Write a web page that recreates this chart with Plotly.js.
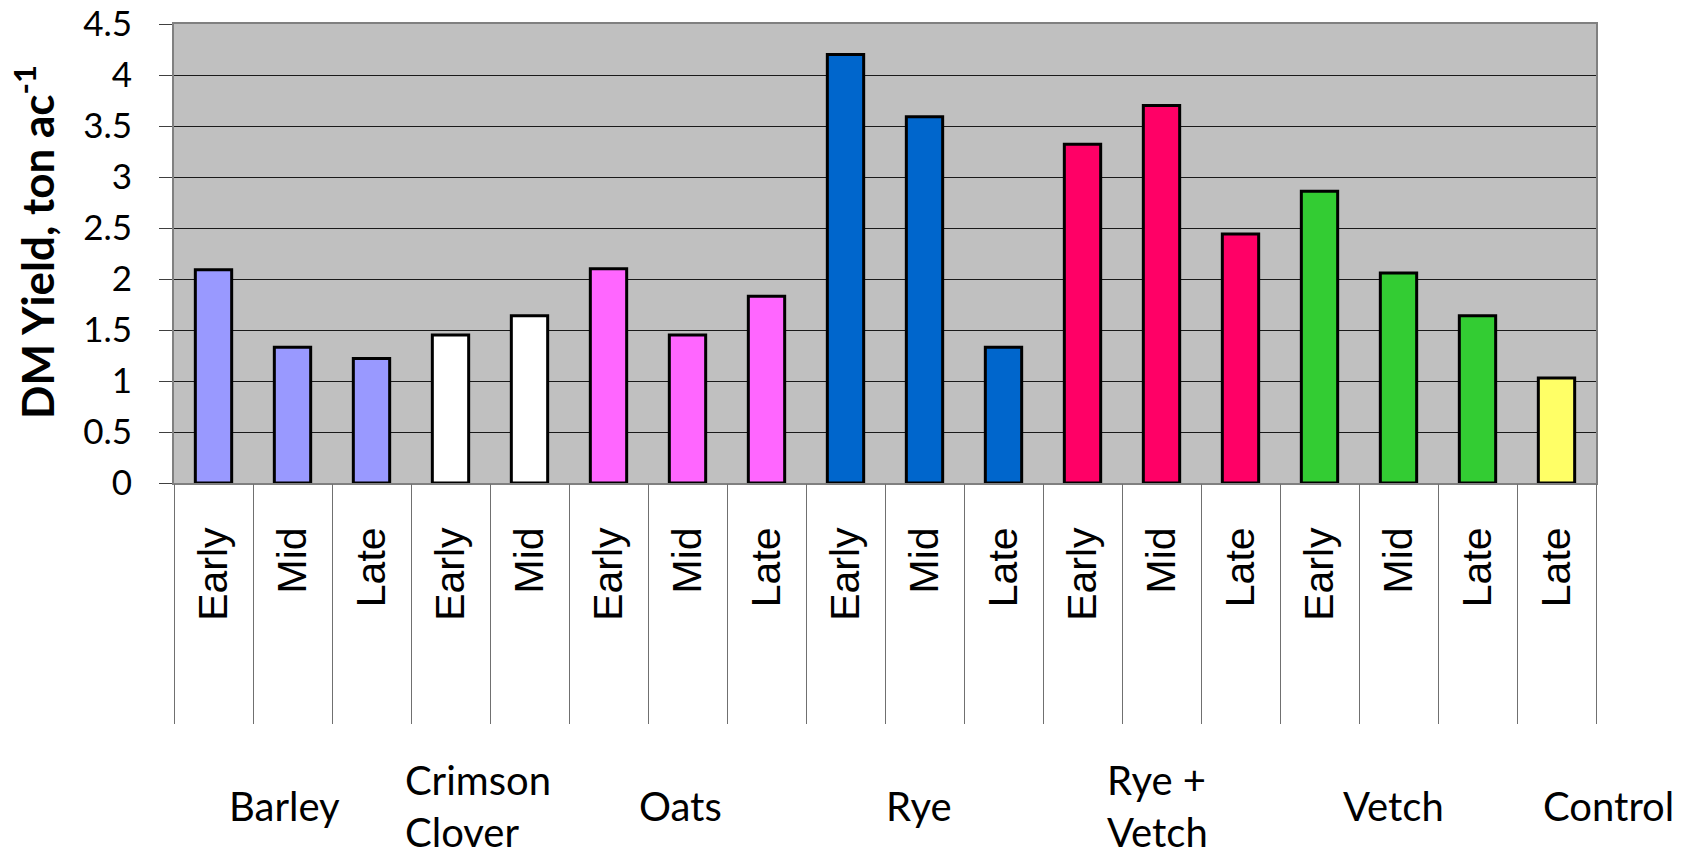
<!DOCTYPE html>
<html>
<head>
<meta charset="utf-8">
<script src="https://cdn.plot.ly/plotly-3.0.1.min.js"></script>
<style>
  html, body { margin: 0; padding: 0; background: #ffffff; }
  #chart { width: 1699px; height: 858px; }
</style>
</head>
<body>
<div id="chart"></div>
<script>
// Cover crop dry-matter yield by termination timing
const groups = ['Barley', 'Barley', 'Barley',
                'Crimson Clover', 'Crimson Clover',
                'Oats', 'Oats', 'Oats',
                'Rye', 'Rye', 'Rye',
                'Rye + Vetch', 'Rye + Vetch', 'Rye + Vetch',
                'Vetch', 'Vetch', 'Vetch',
                'Control'];
const stages = ['Early', 'Mid', 'Late',
                'Early', 'Mid',
                'Early', 'Mid', 'Late',
                'Early', 'Mid', 'Late',
                'Early', 'Mid', 'Late',
                'Early', 'Mid', 'Late',
                'Late'];
const yields = [2.09, 1.33, 1.22,
                1.45, 1.64,
                2.10, 1.45, 1.83,
                4.20, 3.59, 1.33,
                3.32, 3.70, 2.44,
                2.86, 2.06, 1.64,
                1.03];
const groupNames  = ['Barley', 'Crimson Clover', 'Oats', 'Rye', 'Rye + Vetch', 'Vetch', 'Control'];
const groupLabels = ['Barley', 'Crimson<br>Clover', 'Oats', 'Rye', 'Rye +<br>Vetch', 'Vetch', 'Control'];
const yTicks = [0, 0.5, 1, 1.5, 2, 2.5, 3, 3.5, 4, 4.5];
const yTickText = ['0', '0.5', '1', '1.5', '2', '2.5', '3', '3.5', '4', '4.5'];
const yTitle = 'DM Yield, ton ac<sup>-1</sup>';

// styling
const groupColors = {
  'Barley': '#9999FF',
  'Crimson Clover': '#FFFFFF',
  'Oats': '#FF66FF',
  'Rye': '#0066CC',
  'Rye + Vetch': '#FF0066',
  'Vetch': '#33CC33',
  'Control': '#FFFF66'
};
// horizontal nudges (px) of the group captions under the axis
const captionShift = {
  'Barley': -8, 'Crimson Clover': -12, 'Oats': -7, 'Rye': -6,
  'Rye + Vetch': -4, 'Vetch': -5, 'Control': 52
};
const captionFont = { family: 'Lato, Carlito, sans-serif', size: 40, color: '#000000' };

const idx = stages.map((_, i) => i);
const bounds = stages.map((_, i) => i - 0.5).concat([stages.length - 0.5]);
const xRange = [-0.5, stages.length - 0.5];

const bars = {
  type: 'bar',
  x: idx,
  y: yields,
  width: 0.46,
  marker: {
    color: groups.map(g => groupColors[g]),
    line: { color: '#000000', width: 3 }
  },
  hovertemplate: '%{customdata}<extra></extra>',
  customdata: groups.map((g, i) => g + ' ' + stages[i] + ': ' + yields[i]),
  showlegend: false
};

// second, label-free axis carrying the long category divider ticks
const dividerHolder = {
  type: 'scatter', mode: 'markers',
  x: bounds, y: bounds.map(() => 0),
  xaxis: 'x2', yaxis: 'y',
  marker: { opacity: 0 }, hoverinfo: 'skip', showlegend: false
};

const annotations = groupNames.map((g, k) => {
  const members = idx.filter(i => groups[i] === g);
  const center = (members[0] + members[members.length - 1]) / 2;
  return {
    text: groupLabels[k],
    x: center, xref: 'x',
    y: 0, yref: 'paper',
    yshift: -323,
    xshift: captionShift[g],
    xanchor: 'center', yanchor: 'middle',
    align: 'left',
    showarrow: false,
    font: captionFont
  };
});

// vertical axis title, drawn a little above the plot's mid-height
annotations.push({
  text: yTitle,
  textangle: -90,
  x: 0, xref: 'paper', xshift: -140,
  y: 0.525, yref: 'paper',
  xanchor: 'center', yanchor: 'middle',
  showarrow: false,
  font: { family: 'Lato, Carlito, sans-serif', size: 44, weight: 700, color: '#000000' }
});

const layout = {
  width: 1699,
  height: 858,
  margin: { l: 174, r: 103, t: 24, b: 375 },
  paper_bgcolor: '#ffffff',
  plot_bgcolor: '#C0C0C0',
  bargap: 0.54,
  xaxis: {
    range: xRange,
    tickmode: 'array',
    tickvals: idx,
    ticktext: stages,
    tickangle: -90,
    ticks: '',
    ticklabelstandoff: 26,
    tickfont: { family: '"Liberation Sans", Arial, sans-serif', size: 41, color: '#000000' },
    showgrid: false,
    zeroline: false,
    showline: true,
    mirror: true,
    linecolor: '#808080',
    linewidth: 2,
    fixedrange: true
  },
  xaxis2: {
    overlaying: 'x',
    anchor: 'y',
    side: 'bottom',
    range: xRange,
    tickmode: 'array',
    tickvals: bounds,
    ticks: 'outside',
    ticklen: 240,
    tickwidth: 1,
    tickcolor: '#707070',
    showticklabels: false,
    showgrid: false,
    zeroline: false,
    showline: false,
    fixedrange: true
  },
  yaxis: {
    range: [0, 4.5],
    tickmode: 'array',
    tickvals: yTicks,
    ticktext: yTickText,
    ticks: 'outside',
    ticklen: 13,
    tickwidth: 1,
    tickcolor: '#404040',
    ticklabelstandoff: 20,
    tickfont: { family: 'Lato, Carlito, sans-serif', size: 35, color: '#000000' },
    showgrid: true,
    gridcolor: '#1a1a1a',
    gridwidth: 1,
    zeroline: false,
    showline: true,
    mirror: true,
    linecolor: '#808080',
    linewidth: 2,
    fixedrange: true
  },
  annotations: annotations
};

Plotly.newPlot('chart', [bars, dividerHolder], layout, { displayModeBar: false, staticPlot: true });
</script>
</body>
</html>
